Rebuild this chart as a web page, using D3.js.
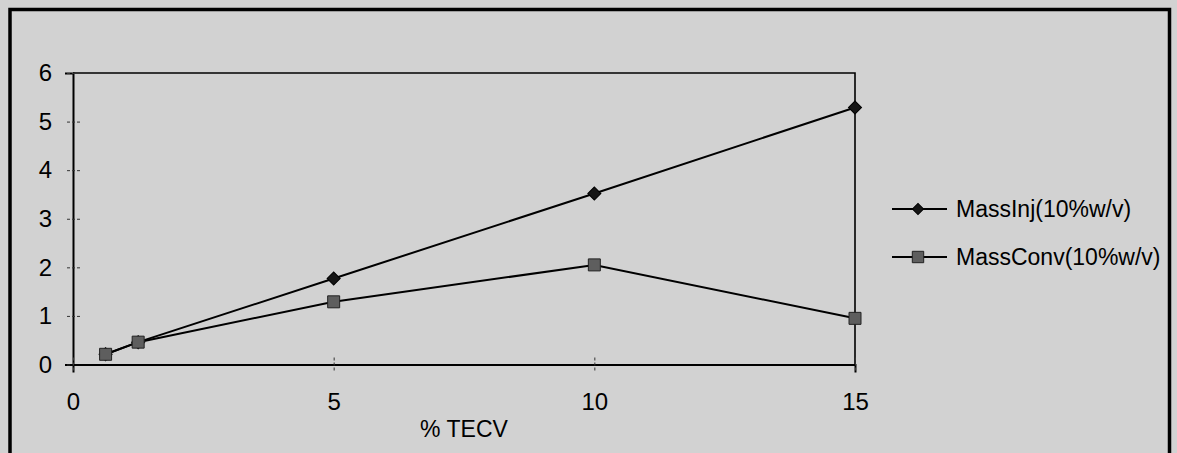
<!DOCTYPE html>
<html>
<head>
<meta charset="utf-8">
<script src="https://cdn.jsdelivr.net/npm/d3@7"></script>
<style>
  html, body { margin: 0; padding: 0; background: #d2d2d2; }
  svg { display: block; }
  text { font-family: "Liberation Sans", Arial, sans-serif; fill: #000; }
</style>
</head>
<body>
<svg id="chart" width="1177" height="453"></svg>
<script>
// % TECV on the x axis
const tecv = [0.625, 1.25, 5, 10, 15];
// Mass injected / converted, 10% w/v
const massInj = [0.21, 0.46, 1.77, 3.52, 5.29];
const massConv = [0.21, 0.46, 1.29, 2.05, 0.95];
const seriesNames = ["MassInj(10%w/v)", "MassConv(10%w/v)"];
const xTicks = [0, 5, 10, 15];
const yTicks = [0, 1, 2, 3, 4, 5, 6];
const xTitle = "% TECV";

const W = 1177, H = 453;
const plot = { left: 73, right: 855, top: 73, bottom: 364.5 };

const svg = d3.select("#chart");

// outer frame
svg.append("rect")
  .attr("x", 10).attr("y", 9.5)
  .attr("width", 1159.5).attr("height", 470)
  .attr("fill", "none").attr("stroke", "#000").attr("stroke-width", 3.5);

const x = d3.scaleLinear().domain([0, 15]).range([plot.left, plot.right]);
const y = d3.scaleLinear().domain([0, 6]).range([plot.bottom, plot.top]);

// plot area border (top and right)
svg.append("path")
  .attr("d", `M${plot.left},${plot.top}H${plot.right}V${plot.bottom}`)
  .attr("fill", "none").attr("stroke", "#000").attr("stroke-width", 1.6);

// y axis
const gy = svg.append("g")
  .attr("transform", `translate(${plot.left},0)`)
  .call(d3.axisLeft(y).tickValues(yTicks).tickFormat(d3.format("d"))
    .tickSize(8).tickPadding(13));
gy.select(".domain").attr("stroke", "#000").attr("stroke-width", 2);
gy.selectAll(".tick line").attr("x1", 7).attr("stroke", "#333").attr("stroke-width", 1)
  .attr("stroke-dasharray", "3,2");
gy.selectAll(".tick text").style("font-size", "24px")
  .style("font-family", "'Liberation Sans', Arial, sans-serif").attr("fill", "#000");

// x axis
const gx = svg.append("g")
  .attr("transform", `translate(0,${plot.bottom})`)
  .call(d3.axisBottom(x).tickValues(xTicks).tickFormat(d3.format("d"))
    .tickSize(8).tickPadding(20));
gx.select(".domain").attr("stroke", "#000").attr("stroke-width", 2);
gx.selectAll(".tick line").attr("y1", -7).attr("stroke", "#333").attr("stroke-width", 1)
  .attr("stroke-dasharray", "3,2");
gx.selectAll(".tick text").style("font-size", "24px")
  .style("font-family", "'Liberation Sans', Arial, sans-serif").attr("fill", "#000");

// x axis title
svg.append("text")
  .attr("x", (plot.left + plot.right) / 2).attr("y", 437)
  .attr("text-anchor", "middle")
  .style("font-size", "23px")
  .text(xTitle);

const line = d3.line().x((d, i) => x(tecv[i])).y(d => y(d));

const diamond = d3.symbol(d3.symbolSquare, 85);
const square = d3.symbol(d3.symbolSquare, 144);

const series = [
  { name: seriesNames[0], values: massInj, sym: diamond, rot: 45, fill: "#151515", stroke: "#000" },
  { name: seriesNames[1], values: massConv, sym: square, rot: 0, fill: "#5e5e5e", stroke: "#222" }
];

series.forEach(s => {
  svg.append("path")
    .datum(s.values)
    .attr("d", line)
    .attr("fill", "none").attr("stroke", "#000").attr("stroke-width", 2);
});

series.forEach(s => {
  svg.append("g").selectAll("path")
    .data(s.values)
    .join("path")
    .attr("d", s.sym)
    .attr("transform", (d, i) => `translate(${x(tecv[i])},${y(d)}) rotate(${s.rot})`)
    .attr("fill", s.fill).attr("stroke", s.stroke).attr("stroke-width", 1);
});

// legend
const legendY = [209, 257];
const legendSym = [d3.symbol(d3.symbolSquare, 62), d3.symbol(d3.symbolSquare, 130)];
series.forEach((s, i) => {
  const g = svg.append("g").attr("transform", `translate(0,${legendY[i]})`);
  g.append("line").attr("x1", 892).attr("x2", 947).attr("y1", 0).attr("y2", 0)
    .attr("stroke", "#000").attr("stroke-width", 2);
  g.append("path").attr("d", legendSym[i])
    .attr("transform", `translate(918,0) rotate(${s.rot})`)
    .attr("fill", s.fill).attr("stroke", s.stroke).attr("stroke-width", 1);
  g.append("text").attr("x", 956).attr("y", 8)
    .style("font-size", "23px")
    .text(s.name);
});
</script>
</body>
</html>
